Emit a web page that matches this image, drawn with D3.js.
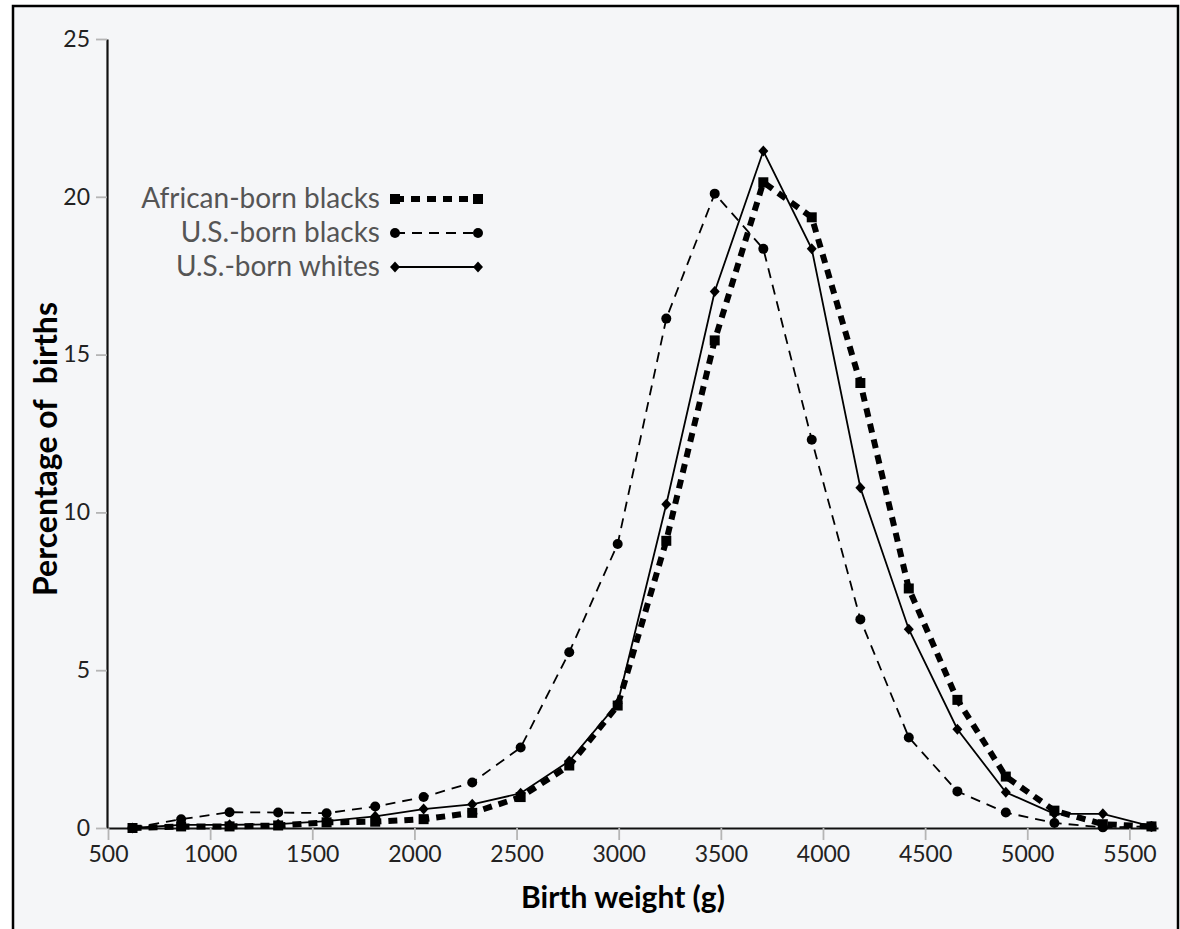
<!DOCTYPE html>
<html>
<head>
<meta charset="utf-8">
<script src="https://cdn.jsdelivr.net/npm/d3@7"></script>
<style>
  body { margin: 0; background: #ffffff; }
  svg { display: block; }
</style>
</head>
<body>
<svg></svg>
<script>
const width = 1180;
const height = 929;

// Birth weight bins (g) and percentage of births per group
const weights = [620, 858, 1095, 1333, 1570, 1808, 2045, 2283, 2520, 2758, 2995, 3233, 3470, 3708, 3945, 4183, 4420, 4658, 4895, 5133, 5370, 5608];
const africanBorn = [0, 0.05, 0.05, 0.08, 0.18, 0.2, 0.28, 0.48, 0.98, 1.98, 3.88, 9.1, 15.45, 20.46, 19.35, 14.1, 7.59, 4.06, 1.63, 0.55, 0.12, 0.05];
const usBlacks = [0, 0.28, 0.5, 0.49, 0.47, 0.68, 0.98, 1.44, 2.55, 5.57, 9.0, 16.14, 20.1, 18.35, 12.3, 6.61, 2.87, 1.16, 0.49, 0.16, 0.02, 0.05];
const usWhites = [0, 0.1, 0.1, 0.12, 0.22, 0.37, 0.6, 0.75, 1.1, 2.12, 3.95, 10.26, 17.0, 21.45, 18.35, 10.78, 6.3, 3.13, 1.13, 0.45, 0.45, 0.05];

const seriesNames = ["African-born blacks", "U.S.-born blacks", "U.S.-born whites"];
const xTicks = [500, 1000, 1500, 2000, 2500, 3000, 3500, 4000, 4500, 5000, 5500];
const yTicks = [0, 5, 10, 15, 20, 25];

const font = "Lato, 'Open Sans', sans-serif";

const svg = d3.select("svg").attr("width", width).attr("height", height);

// Framed panel
svg.append("rect")
  .attr("x", 13).attr("y", 6)
  .attr("width", 1165).attr("height", 960)
  .attr("fill", "#f5f6f8")
  .attr("stroke", "#000")
  .attr("stroke-width", 2.5);

const x = d3.scaleLinear().domain([500, 5640]).range([108, 1158]);
const y = d3.scaleLinear().domain([0, 25]).range([828, 39]);

// X axis
const gx = svg.append("g")
  .attr("transform", `translate(0,${y(0)})`)
  .call(d3.axisBottom(x).tickValues(xTicks).tickSize(12).tickSizeOuter(0).tickPadding(6).tickFormat(d3.format("d")));
gx.select(".domain").attr("stroke", "#111").attr("stroke-width", 2.2);
gx.selectAll(".tick line").attr("stroke", "#b5b5b5").attr("stroke-width", 1.8);
gx.selectAll(".tick text").attr("fill", "#222").style("font-family", font).style("font-size", "23px");

// Y axis
const gy = svg.append("g")
  .attr("transform", `translate(${x(500) - 1},0)`)
  .call(d3.axisLeft(y).tickValues(yTicks).tickSize(11).tickSizeOuter(0).tickPadding(6));
gy.select(".domain").attr("stroke", "#111").attr("stroke-width", 2.2);
gy.selectAll(".tick line").attr("stroke", "#b5b5b5").attr("stroke-width", 1.8);
gy.selectAll(".tick text").attr("fill", "#222").style("font-family", font).style("font-size", "23px");

// Axis titles
svg.append("text")
  .attr("x", 623).attr("y", 908)
  .attr("text-anchor", "middle")
  .style("font-family", font).style("font-size", "30px").style("font-weight", "bold")
  .attr("fill", "#000")
  .text("Birth weight (g)");

svg.append("text")
  .attr("transform", "translate(57,449) rotate(-90)")
  .attr("text-anchor", "middle")
  .style("font-family", font).style("font-size", "32px").style("font-weight", "bold")
  .style("white-space", "pre")
  .attr("fill", "#000")
  .text("Percentage of  births");

// Marker shapes
const drawMarker = (g, type, cx, cy) => {
  if (type === "square") {
    g.append("rect").attr("x", cx - 5).attr("y", cy - 5).attr("width", 10).attr("height", 10).attr("fill", "#000");
  } else if (type === "circle") {
    g.append("circle").attr("cx", cx).attr("cy", cy).attr("r", 5).attr("fill", "#000");
  } else {
    g.append("path").attr("d", `M${cx},${cy - 5.5}L${cx + 5},${cy}L${cx},${cy + 5.5}L${cx - 5},${cy}Z`).attr("fill", "#000");
  }
};

const series = [
  { name: seriesNames[0], values: africanBorn, marker: "square", width: 6, dash: "9,7" },
  { name: seriesNames[1], values: usBlacks, marker: "circle", width: 1.8, dash: "10,7" },
  { name: seriesNames[2], values: usWhites, marker: "diamond", width: 1.8, dash: null }
];

const line = d3.line()
  .x((d) => x(d[0]))
  .y((d) => y(d[1]));

series.forEach((s) => {
  const pts = weights.map((w, i) => [w, s.values[i]]);
  const g = svg.append("g");
  g.append("path")
    .datum(pts)
    .attr("d", line)
    .attr("fill", "none")
    .attr("stroke", "#000")
    .attr("stroke-width", s.width)
    .attr("stroke-dasharray", s.dash);
  pts.forEach((p) => drawMarker(g, s.marker, x(p[0]), y(p[1])));
});

// Legend
const legendRows = [199, 233, 267];
series.forEach((s, i) => {
  const ly = legendRows[i];
  const g = svg.append("g");
  g.append("text")
    .attr("x", 380).attr("y", ly + 9)
    .attr("text-anchor", "end")
    .style("font-family", font).style("font-size", "28px")
    .attr("fill", "#555")
    .text(s.name);
  g.append("line")
    .attr("x1", 395).attr("x2", 478)
    .attr("y1", ly).attr("y2", ly)
    .attr("stroke", "#000")
    .attr("stroke-width", s.width)
    .attr("stroke-dasharray", s.dash);
  drawMarker(g, s.marker, 395, ly);
  drawMarker(g, s.marker, 478, ly);
});
</script>
</body>
</html>
